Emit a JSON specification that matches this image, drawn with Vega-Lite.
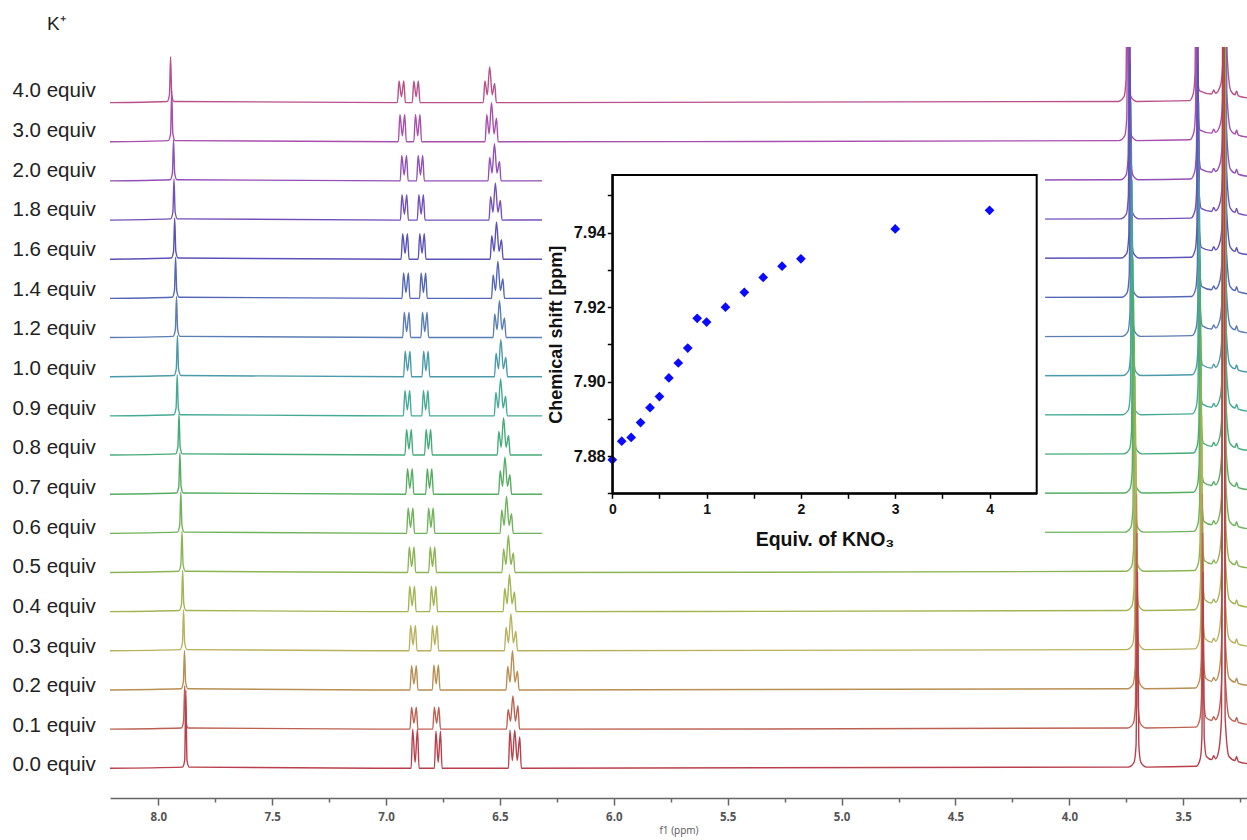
{
"$schema": "https://vega.github.io/schema/vega-lite/v6.json",
"width": 1137, "height": 751,
"autosize": {"type": "none"},
"padding": {"left": 110, "top": 47, "right": 0, "bottom": 42},
"background": "white",
"config": {"view": {"stroke": null}, "font": "Liberation Sans"},
"title": {"text": "K⁺", "anchor": "start", "frame": "group", "dx": -63, "dy": 19, "offset": 17, "baseline": "alphabetic", "fontSize": 19, "fontWeight": "normal", "color": "#222", "font": "Liberation Sans"},
"layer": [
{
"data": {"values": [
{"e":"4.0","x":8.212,"y":17},{"e":"4.0","x":7.961,"y":17.03},{"e":"4.0","x":7.951,"y":17.2},{"e":"4.0","x":7.946,"y":18.17},{"e":"4.0","x":7.941,"y":17.2},{"e":"4.0","x":7.931,"y":17.03},
{"e":"4.0","x":6.95,"y":17},{"e":"4.0","x":6.943,"y":17.55},{"e":"4.0","x":6.9325,"y":17.15},{"e":"4.0","x":6.922,"y":17.55},{"e":"4.0","x":6.915,"y":17},
{"e":"4.0","x":6.885,"y":17},{"e":"4.0","x":6.878,"y":17.55},{"e":"4.0","x":6.868,"y":17.15},{"e":"4.0","x":6.858,"y":17.55},{"e":"4.0","x":6.851,"y":17},
{"e":"4.0","x":6.573,"y":17},{"e":"4.0","x":6.566,"y":17.55},{"e":"4.0","x":6.5555,"y":17.2},{"e":"4.0","x":6.545,"y":17.92},{"e":"4.0","x":6.534,"y":17.2},{"e":"4.0","x":6.523,"y":17.49},{"e":"4.0","x":6.516,"y":17},
{"e":"4.0","x":3.785,"y":17.03},{"e":"4.0","x":3.76,"y":17.15},{"e":"4.0","x":3.751,"y":17.6},{"e":"4.0","x":3.745,"y":22},{"e":"4.0","x":3.739,"y":17.6},{"e":"4.0","x":3.73,"y":17.15},{"e":"4.0","x":3.705,"y":17.03},
{"e":"4.0","x":3.473,"y":17.05},{"e":"4.0","x":3.455,"y":17.25},{"e":"4.0","x":3.448,"y":17.8},{"e":"4.0","x":3.443,"y":22},{"e":"4.0","x":3.438,"y":17.8},{"e":"4.0","x":3.428,"y":17.3},
{"e":"4.0","x":3.375,"y":17.22},{"e":"4.0","x":3.366,"y":17.32},{"e":"4.0","x":3.358,"y":17.24},
{"e":"4.0","x":3.336,"y":17.45},{"e":"4.0","x":3.324,"y":18.3},{"e":"4.0","x":3.316,"y":30},{"e":"4.0","x":3.308,"y":18.3},{"e":"4.0","x":3.291,"y":17.3},
{"e":"4.0","x":3.272,"y":17.2},{"e":"4.0","x":3.266,"y":17.3},{"e":"4.0","x":3.258,"y":17.17},{"e":"4.0","x":3.22,"y":17.12},

{"e":"3.0","x":8.212,"y":16},{"e":"3.0","x":7.956,"y":16.03},{"e":"3.0","x":7.946,"y":16.2},{"e":"3.0","x":7.941,"y":17.3},{"e":"3.0","x":7.936,"y":16.2},{"e":"3.0","x":7.926,"y":16.03},
{"e":"3.0","x":6.946,"y":16},{"e":"3.0","x":6.939,"y":16.7},{"e":"3.0","x":6.9285,"y":16.15},{"e":"3.0","x":6.918,"y":16.7},{"e":"3.0","x":6.911,"y":16},
{"e":"3.0","x":6.878,"y":16},{"e":"3.0","x":6.871,"y":16.7},{"e":"3.0","x":6.861,"y":16.15},{"e":"3.0","x":6.851,"y":16.7},{"e":"3.0","x":6.844,"y":16},
{"e":"3.0","x":6.565,"y":16},{"e":"3.0","x":6.558,"y":16.7},{"e":"3.0","x":6.5475,"y":16.2},{"e":"3.0","x":6.537,"y":17},{"e":"3.0","x":6.526,"y":16.2},{"e":"3.0","x":6.515,"y":16.6},{"e":"3.0","x":6.508,"y":16},
{"e":"3.0","x":3.782,"y":16.03},{"e":"3.0","x":3.757,"y":16.15},{"e":"3.0","x":3.748,"y":16.6},{"e":"3.0","x":3.742,"y":21},{"e":"3.0","x":3.736,"y":16.6},{"e":"3.0","x":3.727,"y":16.15},{"e":"3.0","x":3.702,"y":16.03},
{"e":"3.0","x":3.471,"y":16.05},{"e":"3.0","x":3.453,"y":16.25},{"e":"3.0","x":3.446,"y":16.8},{"e":"3.0","x":3.441,"y":21},{"e":"3.0","x":3.436,"y":16.8},{"e":"3.0","x":3.426,"y":16.3},
{"e":"3.0","x":3.375,"y":16.22},{"e":"3.0","x":3.366,"y":16.32},{"e":"3.0","x":3.358,"y":16.24},
{"e":"3.0","x":3.337,"y":16.45},{"e":"3.0","x":3.325,"y":17.3},{"e":"3.0","x":3.317,"y":30},{"e":"3.0","x":3.309,"y":17.3},{"e":"3.0","x":3.292,"y":16.3},
{"e":"3.0","x":3.272,"y":16.2},{"e":"3.0","x":3.266,"y":16.3},{"e":"3.0","x":3.258,"y":16.17},{"e":"3.0","x":3.22,"y":16.12},

{"e":"2.0","x":8.212,"y":15},{"e":"2.0","x":7.948,"y":15.03},{"e":"2.0","x":7.938,"y":15.2},{"e":"2.0","x":7.933,"y":16.05},{"e":"2.0","x":7.928,"y":15.2},{"e":"2.0","x":7.918,"y":15.03},
{"e":"2.0","x":6.938,"y":15},{"e":"2.0","x":6.931,"y":15.65},{"e":"2.0","x":6.9205,"y":15.15},{"e":"2.0","x":6.91,"y":15.65},{"e":"2.0","x":6.903,"y":15},
{"e":"2.0","x":6.866,"y":15},{"e":"2.0","x":6.859,"y":15.65},{"e":"2.0","x":6.849,"y":15.15},{"e":"2.0","x":6.839,"y":15.65},{"e":"2.0","x":6.832,"y":15},
{"e":"2.0","x":6.552,"y":15},{"e":"2.0","x":6.545,"y":15.6},{"e":"2.0","x":6.5345,"y":15.2},{"e":"2.0","x":6.524,"y":15.95},{"e":"2.0","x":6.513,"y":15.2},{"e":"2.0","x":6.502,"y":15.5},{"e":"2.0","x":6.495,"y":15},
{"e":"2.0","x":3.776,"y":15.03},{"e":"2.0","x":3.751,"y":15.15},{"e":"2.0","x":3.742,"y":15.6},{"e":"2.0","x":3.736,"y":20},{"e":"2.0","x":3.73,"y":15.6},{"e":"2.0","x":3.721,"y":15.15},{"e":"2.0","x":3.696,"y":15.03},
{"e":"2.0","x":3.467,"y":15.05},{"e":"2.0","x":3.449,"y":15.25},{"e":"2.0","x":3.442,"y":15.8},{"e":"2.0","x":3.437,"y":20},{"e":"2.0","x":3.432,"y":15.8},{"e":"2.0","x":3.422,"y":15.3},
{"e":"2.0","x":3.375,"y":15.22},{"e":"2.0","x":3.366,"y":15.32},{"e":"2.0","x":3.358,"y":15.24},
{"e":"2.0","x":3.338,"y":15.45},{"e":"2.0","x":3.326,"y":16.3},{"e":"2.0","x":3.318,"y":30},{"e":"2.0","x":3.31,"y":16.3},{"e":"2.0","x":3.293,"y":15.3},
{"e":"2.0","x":3.272,"y":15.2},{"e":"2.0","x":3.266,"y":15.3},{"e":"2.0","x":3.258,"y":15.17},{"e":"2.0","x":3.22,"y":15.12},

{"e":"1.8","x":8.212,"y":14},{"e":"1.8","x":7.946,"y":14.03},{"e":"1.8","x":7.936,"y":14.2},{"e":"1.8","x":7.931,"y":15.05},{"e":"1.8","x":7.926,"y":14.2},{"e":"1.8","x":7.916,"y":14.03},
{"e":"1.8","x":6.937,"y":14},{"e":"1.8","x":6.93,"y":14.65},{"e":"1.8","x":6.9195,"y":14.15},{"e":"1.8","x":6.909,"y":14.65},{"e":"1.8","x":6.902,"y":14},
{"e":"1.8","x":6.863,"y":14},{"e":"1.8","x":6.856,"y":14.65},{"e":"1.8","x":6.846,"y":14.15},{"e":"1.8","x":6.836,"y":14.65},{"e":"1.8","x":6.829,"y":14},
{"e":"1.8","x":6.548,"y":14},{"e":"1.8","x":6.541,"y":14.6},{"e":"1.8","x":6.5305,"y":14.2},{"e":"1.8","x":6.52,"y":14.95},{"e":"1.8","x":6.509,"y":14.2},{"e":"1.8","x":6.498,"y":14.5},{"e":"1.8","x":6.491,"y":14},
{"e":"1.8","x":3.775,"y":14.03},{"e":"1.8","x":3.75,"y":14.15},{"e":"1.8","x":3.741,"y":14.6},{"e":"1.8","x":3.735,"y":19},{"e":"1.8","x":3.729,"y":14.6},{"e":"1.8","x":3.72,"y":14.15},{"e":"1.8","x":3.695,"y":14.03},
{"e":"1.8","x":3.466,"y":14.05},{"e":"1.8","x":3.448,"y":14.25},{"e":"1.8","x":3.441,"y":14.8},{"e":"1.8","x":3.436,"y":19},{"e":"1.8","x":3.431,"y":14.8},{"e":"1.8","x":3.421,"y":14.3},
{"e":"1.8","x":3.375,"y":14.22},{"e":"1.8","x":3.366,"y":14.32},{"e":"1.8","x":3.358,"y":14.24},
{"e":"1.8","x":3.338,"y":14.45},{"e":"1.8","x":3.326,"y":15.3},{"e":"1.8","x":3.318,"y":30},{"e":"1.8","x":3.31,"y":15.3},{"e":"1.8","x":3.293,"y":14.3},
{"e":"1.8","x":3.272,"y":14.2},{"e":"1.8","x":3.266,"y":14.3},{"e":"1.8","x":3.258,"y":14.17},{"e":"1.8","x":3.22,"y":14.12},

{"e":"1.6","x":8.212,"y":13},{"e":"1.6","x":7.943,"y":13.03},{"e":"1.6","x":7.933,"y":13.2},{"e":"1.6","x":7.928,"y":14.05},{"e":"1.6","x":7.923,"y":13.2},{"e":"1.6","x":7.913,"y":13.03},
{"e":"1.6","x":6.934,"y":13},{"e":"1.6","x":6.927,"y":13.65},{"e":"1.6","x":6.9165,"y":13.15},{"e":"1.6","x":6.906,"y":13.65},{"e":"1.6","x":6.899,"y":13},
{"e":"1.6","x":6.859,"y":13},{"e":"1.6","x":6.852,"y":13.65},{"e":"1.6","x":6.842,"y":13.15},{"e":"1.6","x":6.832,"y":13.65},{"e":"1.6","x":6.825,"y":13},
{"e":"1.6","x":6.543,"y":13},{"e":"1.6","x":6.536,"y":13.6},{"e":"1.6","x":6.5255,"y":13.2},{"e":"1.6","x":6.515,"y":13.95},{"e":"1.6","x":6.504,"y":13.2},{"e":"1.6","x":6.493,"y":13.5},{"e":"1.6","x":6.486,"y":13},
{"e":"1.6","x":3.773,"y":13.03},{"e":"1.6","x":3.748,"y":13.15},{"e":"1.6","x":3.739,"y":13.6},{"e":"1.6","x":3.733,"y":18},{"e":"1.6","x":3.727,"y":13.6},{"e":"1.6","x":3.718,"y":13.15},{"e":"1.6","x":3.693,"y":13.03},
{"e":"1.6","x":3.465,"y":13.05},{"e":"1.6","x":3.447,"y":13.25},{"e":"1.6","x":3.44,"y":13.8},{"e":"1.6","x":3.435,"y":18},{"e":"1.6","x":3.43,"y":13.8},{"e":"1.6","x":3.42,"y":13.3},
{"e":"1.6","x":3.375,"y":13.22},{"e":"1.6","x":3.366,"y":13.32},{"e":"1.6","x":3.358,"y":13.24},
{"e":"1.6","x":3.338,"y":13.45},{"e":"1.6","x":3.326,"y":14.3},{"e":"1.6","x":3.318,"y":30},{"e":"1.6","x":3.31,"y":14.3},{"e":"1.6","x":3.293,"y":13.3},
{"e":"1.6","x":3.272,"y":13.2},{"e":"1.6","x":3.266,"y":13.3},{"e":"1.6","x":3.258,"y":13.17},{"e":"1.6","x":3.22,"y":13.12},

{"e":"1.4","x":8.212,"y":12},{"e":"1.4","x":7.939,"y":12.03},{"e":"1.4","x":7.929,"y":12.2},{"e":"1.4","x":7.924,"y":13.05},{"e":"1.4","x":7.919,"y":12.2},{"e":"1.4","x":7.909,"y":12.03},
{"e":"1.4","x":6.93,"y":12},{"e":"1.4","x":6.923,"y":12.65},{"e":"1.4","x":6.9125,"y":12.15},{"e":"1.4","x":6.902,"y":12.65},{"e":"1.4","x":6.895,"y":12},
{"e":"1.4","x":6.853,"y":12},{"e":"1.4","x":6.846,"y":12.65},{"e":"1.4","x":6.836,"y":12.15},{"e":"1.4","x":6.826,"y":12.65},{"e":"1.4","x":6.819,"y":12},
{"e":"1.4","x":6.537,"y":12},{"e":"1.4","x":6.53,"y":12.6},{"e":"1.4","x":6.5195,"y":12.2},{"e":"1.4","x":6.509,"y":12.95},{"e":"1.4","x":6.498,"y":12.2},{"e":"1.4","x":6.487,"y":12.5},{"e":"1.4","x":6.48,"y":12},
{"e":"1.4","x":3.771,"y":12.03},{"e":"1.4","x":3.746,"y":12.15},{"e":"1.4","x":3.737,"y":12.6},{"e":"1.4","x":3.731,"y":17},{"e":"1.4","x":3.725,"y":12.6},{"e":"1.4","x":3.716,"y":12.15},{"e":"1.4","x":3.691,"y":12.03},
{"e":"1.4","x":3.463,"y":12.05},{"e":"1.4","x":3.445,"y":12.25},{"e":"1.4","x":3.438,"y":12.8},{"e":"1.4","x":3.433,"y":17},{"e":"1.4","x":3.428,"y":12.8},{"e":"1.4","x":3.418,"y":12.3},
{"e":"1.4","x":3.375,"y":12.22},{"e":"1.4","x":3.366,"y":12.32},{"e":"1.4","x":3.358,"y":12.24},
{"e":"1.4","x":3.339,"y":12.45},{"e":"1.4","x":3.327,"y":13.3},{"e":"1.4","x":3.319,"y":30},{"e":"1.4","x":3.311,"y":13.3},{"e":"1.4","x":3.294,"y":12.3},
{"e":"1.4","x":3.272,"y":12.2},{"e":"1.4","x":3.266,"y":12.3},{"e":"1.4","x":3.258,"y":12.17},{"e":"1.4","x":3.22,"y":12.12},

{"e":"1.2","x":8.212,"y":11},{"e":"1.2","x":7.935,"y":11.03},{"e":"1.2","x":7.925,"y":11.2},{"e":"1.2","x":7.92,"y":12.05},{"e":"1.2","x":7.915,"y":11.2},{"e":"1.2","x":7.905,"y":11.03},
{"e":"1.2","x":6.927,"y":11},{"e":"1.2","x":6.92,"y":11.65},{"e":"1.2","x":6.9095,"y":11.15},{"e":"1.2","x":6.899,"y":11.65},{"e":"1.2","x":6.892,"y":11},
{"e":"1.2","x":6.847,"y":11},{"e":"1.2","x":6.84,"y":11.65},{"e":"1.2","x":6.83,"y":11.15},{"e":"1.2","x":6.82,"y":11.65},{"e":"1.2","x":6.813,"y":11},
{"e":"1.2","x":6.53,"y":11},{"e":"1.2","x":6.523,"y":11.6},{"e":"1.2","x":6.5125,"y":11.2},{"e":"1.2","x":6.502,"y":11.95},{"e":"1.2","x":6.491,"y":11.2},{"e":"1.2","x":6.48,"y":11.5},{"e":"1.2","x":6.473,"y":11},
{"e":"1.2","x":3.768,"y":11.03},{"e":"1.2","x":3.743,"y":11.15},{"e":"1.2","x":3.734,"y":11.6},{"e":"1.2","x":3.728,"y":16},{"e":"1.2","x":3.722,"y":11.6},{"e":"1.2","x":3.713,"y":11.15},{"e":"1.2","x":3.688,"y":11.03},
{"e":"1.2","x":3.461,"y":11.05},{"e":"1.2","x":3.443,"y":11.25},{"e":"1.2","x":3.436,"y":11.8},{"e":"1.2","x":3.431,"y":16},{"e":"1.2","x":3.426,"y":11.8},{"e":"1.2","x":3.416,"y":11.3},
{"e":"1.2","x":3.375,"y":11.22},{"e":"1.2","x":3.366,"y":11.32},{"e":"1.2","x":3.358,"y":11.24},
{"e":"1.2","x":3.339,"y":11.45},{"e":"1.2","x":3.327,"y":12.3},{"e":"1.2","x":3.319,"y":30},{"e":"1.2","x":3.311,"y":12.3},{"e":"1.2","x":3.294,"y":11.3},
{"e":"1.2","x":3.272,"y":11.2},{"e":"1.2","x":3.266,"y":11.3},{"e":"1.2","x":3.258,"y":11.17},{"e":"1.2","x":3.22,"y":11.12},

{"e":"1.0","x":8.212,"y":10},{"e":"1.0","x":7.931,"y":10.03},{"e":"1.0","x":7.921,"y":10.2},{"e":"1.0","x":7.916,"y":11.05},{"e":"1.0","x":7.911,"y":10.2},{"e":"1.0","x":7.901,"y":10.03},
{"e":"1.0","x":6.923,"y":10},{"e":"1.0","x":6.916,"y":10.65},{"e":"1.0","x":6.9055,"y":10.15},{"e":"1.0","x":6.895,"y":10.65},{"e":"1.0","x":6.888,"y":10},
{"e":"1.0","x":6.842,"y":10},{"e":"1.0","x":6.835,"y":10.65},{"e":"1.0","x":6.825,"y":10.15},{"e":"1.0","x":6.815,"y":10.65},{"e":"1.0","x":6.808,"y":10},
{"e":"1.0","x":6.524,"y":10},{"e":"1.0","x":6.517,"y":10.6},{"e":"1.0","x":6.5065,"y":10.2},{"e":"1.0","x":6.496,"y":10.95},{"e":"1.0","x":6.485,"y":10.2},{"e":"1.0","x":6.474,"y":10.5},{"e":"1.0","x":6.467,"y":10},
{"e":"1.0","x":3.765,"y":10.03},{"e":"1.0","x":3.74,"y":10.15},{"e":"1.0","x":3.731,"y":10.6},{"e":"1.0","x":3.725,"y":15},{"e":"1.0","x":3.719,"y":10.6},{"e":"1.0","x":3.71,"y":10.15},{"e":"1.0","x":3.685,"y":10.03},
{"e":"1.0","x":3.46,"y":10.05},{"e":"1.0","x":3.442,"y":10.25},{"e":"1.0","x":3.435,"y":10.8},{"e":"1.0","x":3.43,"y":15},{"e":"1.0","x":3.425,"y":10.8},{"e":"1.0","x":3.415,"y":10.3},
{"e":"1.0","x":3.375,"y":10.22},{"e":"1.0","x":3.366,"y":10.32},{"e":"1.0","x":3.358,"y":10.24},
{"e":"1.0","x":3.34,"y":10.45},{"e":"1.0","x":3.328,"y":11.3},{"e":"1.0","x":3.32,"y":30},{"e":"1.0","x":3.312,"y":11.3},{"e":"1.0","x":3.295,"y":10.3},
{"e":"1.0","x":3.272,"y":10.2},{"e":"1.0","x":3.266,"y":10.3},{"e":"1.0","x":3.258,"y":10.17},{"e":"1.0","x":3.22,"y":10.12},

{"e":"0.9","x":8.212,"y":9},{"e":"0.9","x":7.932,"y":9.03},{"e":"0.9","x":7.922,"y":9.2},{"e":"0.9","x":7.917,"y":10.05},{"e":"0.9","x":7.912,"y":9.2},{"e":"0.9","x":7.902,"y":9.03},
{"e":"0.9","x":6.924,"y":9},{"e":"0.9","x":6.917,"y":9.65},{"e":"0.9","x":6.9065,"y":9.15},{"e":"0.9","x":6.896,"y":9.65},{"e":"0.9","x":6.889,"y":9},
{"e":"0.9","x":6.843,"y":9},{"e":"0.9","x":6.836,"y":9.65},{"e":"0.9","x":6.826,"y":9.15},{"e":"0.9","x":6.816,"y":9.65},{"e":"0.9","x":6.809,"y":9},
{"e":"0.9","x":6.525,"y":9},{"e":"0.9","x":6.518,"y":9.6},{"e":"0.9","x":6.5075,"y":9.2},{"e":"0.9","x":6.497,"y":9.95},{"e":"0.9","x":6.486,"y":9.2},{"e":"0.9","x":6.475,"y":9.5},{"e":"0.9","x":6.468,"y":9},
{"e":"0.9","x":3.766,"y":9.03},{"e":"0.9","x":3.741,"y":9.15},{"e":"0.9","x":3.732,"y":9.6},{"e":"0.9","x":3.726,"y":14},{"e":"0.9","x":3.72,"y":9.6},{"e":"0.9","x":3.711,"y":9.15},{"e":"0.9","x":3.686,"y":9.03},
{"e":"0.9","x":3.46,"y":9.05},{"e":"0.9","x":3.442,"y":9.25},{"e":"0.9","x":3.435,"y":9.8},{"e":"0.9","x":3.43,"y":14},{"e":"0.9","x":3.425,"y":9.8},{"e":"0.9","x":3.415,"y":9.3},
{"e":"0.9","x":3.375,"y":9.22},{"e":"0.9","x":3.366,"y":9.32},{"e":"0.9","x":3.358,"y":9.24},
{"e":"0.9","x":3.339,"y":9.45},{"e":"0.9","x":3.327,"y":10.3},{"e":"0.9","x":3.319,"y":30},{"e":"0.9","x":3.311,"y":10.3},{"e":"0.9","x":3.294,"y":9.3},
{"e":"0.9","x":3.272,"y":9.2},{"e":"0.9","x":3.266,"y":9.3},{"e":"0.9","x":3.258,"y":9.17},{"e":"0.9","x":3.22,"y":9.12},

{"e":"0.8","x":8.212,"y":8},{"e":"0.8","x":7.924,"y":8.03},{"e":"0.8","x":7.914,"y":8.2},{"e":"0.8","x":7.909,"y":9.05},{"e":"0.8","x":7.904,"y":8.2},{"e":"0.8","x":7.894,"y":8.03},
{"e":"0.8","x":6.917,"y":8},{"e":"0.8","x":6.91,"y":8.65},{"e":"0.8","x":6.8995,"y":8.15},{"e":"0.8","x":6.889,"y":8.65},{"e":"0.8","x":6.882,"y":8},
{"e":"0.8","x":6.831,"y":8},{"e":"0.8","x":6.824,"y":8.65},{"e":"0.8","x":6.814,"y":8.15},{"e":"0.8","x":6.804,"y":8.65},{"e":"0.8","x":6.797,"y":8},
{"e":"0.8","x":6.512,"y":8},{"e":"0.8","x":6.505,"y":8.6},{"e":"0.8","x":6.4945,"y":8.2},{"e":"0.8","x":6.484,"y":8.95},{"e":"0.8","x":6.473,"y":8.2},{"e":"0.8","x":6.462,"y":8.5},{"e":"0.8","x":6.455,"y":8},
{"e":"0.8","x":3.761,"y":8.03},{"e":"0.8","x":3.736,"y":8.15},{"e":"0.8","x":3.727,"y":8.6},{"e":"0.8","x":3.721,"y":13},{"e":"0.8","x":3.715,"y":8.6},{"e":"0.8","x":3.706,"y":8.15},{"e":"0.8","x":3.681,"y":8.03},
{"e":"0.8","x":3.456,"y":8.05},{"e":"0.8","x":3.438,"y":8.25},{"e":"0.8","x":3.431,"y":8.8},{"e":"0.8","x":3.426,"y":13},{"e":"0.8","x":3.421,"y":8.8},{"e":"0.8","x":3.411,"y":8.3},
{"e":"0.8","x":3.375,"y":8.22},{"e":"0.8","x":3.366,"y":8.32},{"e":"0.8","x":3.358,"y":8.24},
{"e":"0.8","x":3.34,"y":8.45},{"e":"0.8","x":3.328,"y":9.3},{"e":"0.8","x":3.32,"y":30},{"e":"0.8","x":3.312,"y":9.3},{"e":"0.8","x":3.295,"y":8.3},
{"e":"0.8","x":3.272,"y":8.2},{"e":"0.8","x":3.266,"y":8.3},{"e":"0.8","x":3.258,"y":8.17},{"e":"0.8","x":3.22,"y":8.12},

{"e":"0.7","x":8.212,"y":7},{"e":"0.7","x":7.92,"y":7.03},{"e":"0.7","x":7.91,"y":7.2},{"e":"0.7","x":7.905,"y":8.05},{"e":"0.7","x":7.9,"y":7.2},{"e":"0.7","x":7.89,"y":7.03},
{"e":"0.7","x":6.913,"y":7},{"e":"0.7","x":6.906,"y":7.65},{"e":"0.7","x":6.8955,"y":7.15},{"e":"0.7","x":6.885,"y":7.65},{"e":"0.7","x":6.878,"y":7},
{"e":"0.7","x":6.826,"y":7},{"e":"0.7","x":6.819,"y":7.65},{"e":"0.7","x":6.809,"y":7.15},{"e":"0.7","x":6.799,"y":7.65},{"e":"0.7","x":6.792,"y":7},
{"e":"0.7","x":6.506,"y":7},{"e":"0.7","x":6.499,"y":7.6},{"e":"0.7","x":6.4885,"y":7.2},{"e":"0.7","x":6.478,"y":7.95},{"e":"0.7","x":6.467,"y":7.2},{"e":"0.7","x":6.456,"y":7.5},{"e":"0.7","x":6.449,"y":7},
{"e":"0.7","x":3.758,"y":7.03},{"e":"0.7","x":3.733,"y":7.15},{"e":"0.7","x":3.724,"y":7.6},{"e":"0.7","x":3.718,"y":12},{"e":"0.7","x":3.712,"y":7.6},{"e":"0.7","x":3.703,"y":7.15},{"e":"0.7","x":3.678,"y":7.03},
{"e":"0.7","x":3.455,"y":7.05},{"e":"0.7","x":3.437,"y":7.25},{"e":"0.7","x":3.43,"y":7.8},{"e":"0.7","x":3.425,"y":12},{"e":"0.7","x":3.42,"y":7.8},{"e":"0.7","x":3.41,"y":7.3},
{"e":"0.7","x":3.375,"y":7.22},{"e":"0.7","x":3.366,"y":7.32},{"e":"0.7","x":3.358,"y":7.24},
{"e":"0.7","x":3.341,"y":7.45},{"e":"0.7","x":3.329,"y":8.3},{"e":"0.7","x":3.321,"y":30},{"e":"0.7","x":3.313,"y":8.3},{"e":"0.7","x":3.296,"y":7.3},
{"e":"0.7","x":3.272,"y":7.2},{"e":"0.7","x":3.266,"y":7.3},{"e":"0.7","x":3.258,"y":7.17},{"e":"0.7","x":3.22,"y":7.12},

{"e":"0.6","x":8.212,"y":6},{"e":"0.6","x":7.916,"y":6.03},{"e":"0.6","x":7.906,"y":6.2},{"e":"0.6","x":7.901,"y":7.05},{"e":"0.6","x":7.896,"y":6.2},{"e":"0.6","x":7.886,"y":6.03},
{"e":"0.6","x":6.91,"y":6},{"e":"0.6","x":6.903,"y":6.65},{"e":"0.6","x":6.8925,"y":6.15},{"e":"0.6","x":6.882,"y":6.65},{"e":"0.6","x":6.875,"y":6},
{"e":"0.6","x":6.82,"y":6},{"e":"0.6","x":6.813,"y":6.65},{"e":"0.6","x":6.803,"y":6.15},{"e":"0.6","x":6.793,"y":6.65},{"e":"0.6","x":6.786,"y":6},
{"e":"0.6","x":6.499,"y":6},{"e":"0.6","x":6.492,"y":6.6},{"e":"0.6","x":6.4815,"y":6.2},{"e":"0.6","x":6.471,"y":6.95},{"e":"0.6","x":6.46,"y":6.2},{"e":"0.6","x":6.449,"y":6.5},{"e":"0.6","x":6.442,"y":6},
{"e":"0.6","x":3.755,"y":6.03},{"e":"0.6","x":3.73,"y":6.15},{"e":"0.6","x":3.721,"y":6.6},{"e":"0.6","x":3.715,"y":11},{"e":"0.6","x":3.709,"y":6.6},{"e":"0.6","x":3.7,"y":6.15},{"e":"0.6","x":3.675,"y":6.03},
{"e":"0.6","x":3.453,"y":6.05},{"e":"0.6","x":3.435,"y":6.25},{"e":"0.6","x":3.428,"y":6.8},{"e":"0.6","x":3.423,"y":11},{"e":"0.6","x":3.418,"y":6.8},{"e":"0.6","x":3.408,"y":6.3},
{"e":"0.6","x":3.375,"y":6.22},{"e":"0.6","x":3.366,"y":6.32},{"e":"0.6","x":3.358,"y":6.24},
{"e":"0.6","x":3.341,"y":6.45},{"e":"0.6","x":3.329,"y":7.3},{"e":"0.6","x":3.321,"y":30},{"e":"0.6","x":3.313,"y":7.3},{"e":"0.6","x":3.296,"y":6.3},
{"e":"0.6","x":3.272,"y":6.2},{"e":"0.6","x":3.266,"y":6.3},{"e":"0.6","x":3.258,"y":6.17},{"e":"0.6","x":3.22,"y":6.12},

{"e":"0.5","x":8.212,"y":5},{"e":"0.5","x":7.911,"y":5.03},{"e":"0.5","x":7.901,"y":5.2},{"e":"0.5","x":7.896,"y":6.05},{"e":"0.5","x":7.891,"y":5.2},{"e":"0.5","x":7.881,"y":5.03},
{"e":"0.5","x":6.905,"y":5},{"e":"0.5","x":6.898,"y":5.65},{"e":"0.5","x":6.8875,"y":5.15},{"e":"0.5","x":6.877,"y":5.65},{"e":"0.5","x":6.87,"y":5},
{"e":"0.5","x":6.813,"y":5},{"e":"0.5","x":6.806,"y":5.65},{"e":"0.5","x":6.796,"y":5.15},{"e":"0.5","x":6.786,"y":5.65},{"e":"0.5","x":6.779,"y":5},
{"e":"0.5","x":6.491,"y":5},{"e":"0.5","x":6.484,"y":5.6},{"e":"0.5","x":6.4735,"y":5.2},{"e":"0.5","x":6.463,"y":5.95},{"e":"0.5","x":6.452,"y":5.2},{"e":"0.5","x":6.441,"y":5.5},{"e":"0.5","x":6.434,"y":5},
{"e":"0.5","x":3.752,"y":5.03},{"e":"0.5","x":3.727,"y":5.15},{"e":"0.5","x":3.718,"y":5.6},{"e":"0.5","x":3.712,"y":10},{"e":"0.5","x":3.706,"y":5.6},{"e":"0.5","x":3.697,"y":5.15},{"e":"0.5","x":3.672,"y":5.03},
{"e":"0.5","x":3.451,"y":5.05},{"e":"0.5","x":3.433,"y":5.25},{"e":"0.5","x":3.426,"y":5.8},{"e":"0.5","x":3.421,"y":10},{"e":"0.5","x":3.416,"y":5.8},{"e":"0.5","x":3.406,"y":5.3},
{"e":"0.5","x":3.375,"y":5.22},{"e":"0.5","x":3.366,"y":5.32},{"e":"0.5","x":3.358,"y":5.24},
{"e":"0.5","x":3.342,"y":5.45},{"e":"0.5","x":3.33,"y":6.3},{"e":"0.5","x":3.322,"y":30},{"e":"0.5","x":3.314,"y":6.3},{"e":"0.5","x":3.297,"y":5.3},
{"e":"0.5","x":3.272,"y":5.2},{"e":"0.5","x":3.266,"y":5.3},{"e":"0.5","x":3.258,"y":5.17},{"e":"0.5","x":3.22,"y":5.12},

{"e":"0.4","x":8.212,"y":4},{"e":"0.4","x":7.908,"y":4.03},{"e":"0.4","x":7.898,"y":4.2},{"e":"0.4","x":7.893,"y":5.05},{"e":"0.4","x":7.888,"y":4.2},{"e":"0.4","x":7.878,"y":4.03},
{"e":"0.4","x":6.903,"y":4},{"e":"0.4","x":6.896,"y":4.65},{"e":"0.4","x":6.8855,"y":4.15},{"e":"0.4","x":6.875,"y":4.65},{"e":"0.4","x":6.868,"y":4},
{"e":"0.4","x":6.808,"y":4},{"e":"0.4","x":6.801,"y":4.65},{"e":"0.4","x":6.791,"y":4.15},{"e":"0.4","x":6.781,"y":4.65},{"e":"0.4","x":6.774,"y":4},
{"e":"0.4","x":6.486,"y":4},{"e":"0.4","x":6.479,"y":4.6},{"e":"0.4","x":6.4685,"y":4.2},{"e":"0.4","x":6.458,"y":4.95},{"e":"0.4","x":6.447,"y":4.2},{"e":"0.4","x":6.436,"y":4.5},{"e":"0.4","x":6.429,"y":4},
{"e":"0.4","x":3.75,"y":4.03},{"e":"0.4","x":3.725,"y":4.15},{"e":"0.4","x":3.716,"y":4.6},{"e":"0.4","x":3.71,"y":9},{"e":"0.4","x":3.704,"y":4.6},{"e":"0.4","x":3.695,"y":4.15},{"e":"0.4","x":3.67,"y":4.03},
{"e":"0.4","x":3.449,"y":4.05},{"e":"0.4","x":3.431,"y":4.25},{"e":"0.4","x":3.424,"y":4.8},{"e":"0.4","x":3.419,"y":9},{"e":"0.4","x":3.414,"y":4.8},{"e":"0.4","x":3.404,"y":4.3},
{"e":"0.4","x":3.375,"y":4.22},{"e":"0.4","x":3.366,"y":4.32},{"e":"0.4","x":3.358,"y":4.24},
{"e":"0.4","x":3.342,"y":4.45},{"e":"0.4","x":3.33,"y":5.3},{"e":"0.4","x":3.322,"y":30},{"e":"0.4","x":3.314,"y":5.3},{"e":"0.4","x":3.297,"y":4.3},
{"e":"0.4","x":3.272,"y":4.2},{"e":"0.4","x":3.266,"y":4.3},{"e":"0.4","x":3.258,"y":4.17},{"e":"0.4","x":3.22,"y":4.12},

{"e":"0.3","x":8.212,"y":3},{"e":"0.3","x":7.904,"y":3.03},{"e":"0.3","x":7.894,"y":3.2},{"e":"0.3","x":7.889,"y":4.05},{"e":"0.3","x":7.884,"y":3.2},{"e":"0.3","x":7.874,"y":3.03},
{"e":"0.3","x":6.899,"y":3},{"e":"0.3","x":6.892,"y":3.65},{"e":"0.3","x":6.8815,"y":3.15},{"e":"0.3","x":6.871,"y":3.65},{"e":"0.3","x":6.864,"y":3},
{"e":"0.3","x":6.803,"y":3},{"e":"0.3","x":6.796,"y":3.65},{"e":"0.3","x":6.786,"y":3.15},{"e":"0.3","x":6.776,"y":3.65},{"e":"0.3","x":6.769,"y":3},
{"e":"0.3","x":6.48,"y":3},{"e":"0.3","x":6.473,"y":3.6},{"e":"0.3","x":6.4625,"y":3.2},{"e":"0.3","x":6.452,"y":3.95},{"e":"0.3","x":6.441,"y":3.2},{"e":"0.3","x":6.43,"y":3.5},{"e":"0.3","x":6.423,"y":3},
{"e":"0.3","x":3.748,"y":3.03},{"e":"0.3","x":3.723,"y":3.15},{"e":"0.3","x":3.714,"y":3.6},{"e":"0.3","x":3.708,"y":8},{"e":"0.3","x":3.702,"y":3.6},{"e":"0.3","x":3.693,"y":3.15},{"e":"0.3","x":3.668,"y":3.03},
{"e":"0.3","x":3.448,"y":3.05},{"e":"0.3","x":3.43,"y":3.25},{"e":"0.3","x":3.423,"y":3.8},{"e":"0.3","x":3.418,"y":8},{"e":"0.3","x":3.413,"y":3.8},{"e":"0.3","x":3.403,"y":3.3},
{"e":"0.3","x":3.375,"y":3.22},{"e":"0.3","x":3.366,"y":3.32},{"e":"0.3","x":3.358,"y":3.24},
{"e":"0.3","x":3.343,"y":3.45},{"e":"0.3","x":3.331,"y":4.3},{"e":"0.3","x":3.323,"y":30},{"e":"0.3","x":3.315,"y":4.3},{"e":"0.3","x":3.298,"y":3.3},
{"e":"0.3","x":3.272,"y":3.2},{"e":"0.3","x":3.266,"y":3.3},{"e":"0.3","x":3.258,"y":3.17},{"e":"0.3","x":3.22,"y":3.12},

{"e":"0.2","x":8.212,"y":2},{"e":"0.2","x":7.9,"y":2.03},{"e":"0.2","x":7.89,"y":2.2},{"e":"0.2","x":7.885,"y":3},{"e":"0.2","x":7.88,"y":2.2},{"e":"0.2","x":7.87,"y":2.03},
{"e":"0.2","x":6.895,"y":2},{"e":"0.2","x":6.888,"y":2.62},{"e":"0.2","x":6.8775,"y":2.15},{"e":"0.2","x":6.867,"y":2.62},{"e":"0.2","x":6.86,"y":2},
{"e":"0.2","x":6.797,"y":2},{"e":"0.2","x":6.79,"y":2.64},{"e":"0.2","x":6.78,"y":2.15},{"e":"0.2","x":6.77,"y":2.64},{"e":"0.2","x":6.763,"y":2},
{"e":"0.2","x":6.473,"y":2},{"e":"0.2","x":6.466,"y":2.6},{"e":"0.2","x":6.4555,"y":2.2},{"e":"0.2","x":6.445,"y":3},{"e":"0.2","x":6.434,"y":2.2},{"e":"0.2","x":6.423,"y":2.48},{"e":"0.2","x":6.416,"y":2},
{"e":"0.2","x":3.745,"y":2.03},{"e":"0.2","x":3.72,"y":2.15},{"e":"0.2","x":3.711,"y":2.6},{"e":"0.2","x":3.705,"y":7},{"e":"0.2","x":3.699,"y":2.6},{"e":"0.2","x":3.69,"y":2.15},{"e":"0.2","x":3.665,"y":2.03},
{"e":"0.2","x":3.446,"y":2.05},{"e":"0.2","x":3.428,"y":2.25},{"e":"0.2","x":3.421,"y":2.8},{"e":"0.2","x":3.416,"y":7},{"e":"0.2","x":3.411,"y":2.8},{"e":"0.2","x":3.401,"y":2.3},
{"e":"0.2","x":3.375,"y":2.22},{"e":"0.2","x":3.366,"y":2.32},{"e":"0.2","x":3.358,"y":2.24},
{"e":"0.2","x":3.343,"y":2.45},{"e":"0.2","x":3.331,"y":3.3},{"e":"0.2","x":3.323,"y":30},{"e":"0.2","x":3.315,"y":3.3},{"e":"0.2","x":3.298,"y":2.3},
{"e":"0.2","x":3.272,"y":2.2},{"e":"0.2","x":3.266,"y":2.3},{"e":"0.2","x":3.258,"y":2.17},{"e":"0.2","x":3.22,"y":2.12},

{"e":"0.1","x":8.212,"y":1},{"e":"0.1","x":7.899,"y":1.03},{"e":"0.1","x":7.889,"y":1.2},{"e":"0.1","x":7.884,"y":2.1},{"e":"0.1","x":7.879,"y":1.2},{"e":"0.1","x":7.869,"y":1.03},
{"e":"0.1","x":6.895,"y":1},{"e":"0.1","x":6.888,"y":1.56},{"e":"0.1","x":6.8775,"y":1.15},{"e":"0.1","x":6.867,"y":1.56},{"e":"0.1","x":6.86,"y":1},
{"e":"0.1","x":6.795,"y":1},{"e":"0.1","x":6.788,"y":1.56},{"e":"0.1","x":6.778,"y":1.15},{"e":"0.1","x":6.768,"y":1.56},{"e":"0.1","x":6.761,"y":1},
{"e":"0.1","x":6.471,"y":1},{"e":"0.1","x":6.464,"y":1.5},{"e":"0.1","x":6.4535,"y":1.2},{"e":"0.1","x":6.443,"y":1.85},{"e":"0.1","x":6.432,"y":1.2},{"e":"0.1","x":6.421,"y":1.6},{"e":"0.1","x":6.414,"y":1},
{"e":"0.1","x":3.744,"y":1.03},{"e":"0.1","x":3.719,"y":1.15},{"e":"0.1","x":3.71,"y":1.6},{"e":"0.1","x":3.704,"y":6},{"e":"0.1","x":3.698,"y":1.6},{"e":"0.1","x":3.689,"y":1.15},{"e":"0.1","x":3.664,"y":1.03},
{"e":"0.1","x":3.445,"y":1.05},{"e":"0.1","x":3.427,"y":1.25},{"e":"0.1","x":3.42,"y":1.8},{"e":"0.1","x":3.415,"y":6},{"e":"0.1","x":3.41,"y":1.8},{"e":"0.1","x":3.4,"y":1.3},
{"e":"0.1","x":3.375,"y":1.22},{"e":"0.1","x":3.366,"y":1.32},{"e":"0.1","x":3.358,"y":1.24},
{"e":"0.1","x":3.343,"y":1.45},{"e":"0.1","x":3.331,"y":2.3},{"e":"0.1","x":3.323,"y":30},{"e":"0.1","x":3.315,"y":2.3},{"e":"0.1","x":3.298,"y":1.3},
{"e":"0.1","x":3.272,"y":1.2},{"e":"0.1","x":3.266,"y":1.3},{"e":"0.1","x":3.258,"y":1.17},{"e":"0.1","x":3.22,"y":1.12},

{"e":"0.0","x":8.212,"y":0},{"e":"0.0","x":7.894,"y":0.03},{"e":"0.0","x":7.884,"y":0.2},{"e":"0.0","x":7.879,"y":2},{"e":"0.0","x":7.874,"y":0.2},{"e":"0.0","x":7.864,"y":0.03},
{"e":"0.0","x":6.89,"y":0},{"e":"0.0","x":6.883,"y":1},{"e":"0.0","x":6.8725,"y":0.15},{"e":"0.0","x":6.862,"y":1},{"e":"0.0","x":6.855,"y":0},
{"e":"0.0","x":6.788,"y":0},{"e":"0.0","x":6.781,"y":0.95},{"e":"0.0","x":6.771,"y":0.15},{"e":"0.0","x":6.761,"y":0.95},{"e":"0.0","x":6.754,"y":0},
{"e":"0.0","x":6.463,"y":0},{"e":"0.0","x":6.456,"y":0.97},{"e":"0.0","x":6.4455,"y":0.2},{"e":"0.0","x":6.435,"y":0.97},{"e":"0.0","x":6.424,"y":0.2},{"e":"0.0","x":6.413,"y":0.8},{"e":"0.0","x":6.406,"y":0},
{"e":"0.0","x":3.741,"y":0.03},{"e":"0.0","x":3.716,"y":0.15},{"e":"0.0","x":3.707,"y":0.6},{"e":"0.0","x":3.701,"y":5},{"e":"0.0","x":3.695,"y":0.6},{"e":"0.0","x":3.686,"y":0.15},{"e":"0.0","x":3.661,"y":0.03},
{"e":"0.0","x":3.443,"y":0.05},{"e":"0.0","x":3.425,"y":0.25},{"e":"0.0","x":3.418,"y":0.8},{"e":"0.0","x":3.413,"y":5},{"e":"0.0","x":3.408,"y":0.8},{"e":"0.0","x":3.398,"y":0.3},
{"e":"0.0","x":3.375,"y":0.22},{"e":"0.0","x":3.366,"y":0.32},{"e":"0.0","x":3.358,"y":0.24},
{"e":"0.0","x":3.344,"y":0.45},{"e":"0.0","x":3.332,"y":1.3},{"e":"0.0","x":3.324,"y":30},{"e":"0.0","x":3.316,"y":1.3},{"e":"0.0","x":3.299,"y":0.3},
{"e":"0.0","x":3.272,"y":0.2},{"e":"0.0","x":3.266,"y":0.3},{"e":"0.0","x":3.258,"y":0.17},{"e":"0.0","x":3.22,"y":0.12}
]},
"mark": {"type": "line", "clip": true, "strokeWidth": 1.4, "interpolate": "monotone"},
"encoding": {
"x": {"field": "x", "type": "quantitative",
"scale": {"domain": [3.22, 8.212], "reverse": true, "nice": false, "zero": false},
"axis": {"values": [8, 7.75, 7.5, 7.25, 7, 6.75, 6.5, 6.25, 6, 5.75, 5.5, 5.25, 5, 4.75, 4.5, 4.25, 4, 3.75, 3.5, 3.25],
"labelExpr": "abs(datum.value*2-round(datum.value*2))<0.01 ? format(datum.value,'.1f') : ''",
"tickSize": {"condition": {"test": "abs(datum.value*2-round(datum.value*2))<0.01", "value": 7}, "value": 4},
"title": "f1 (ppm)", "titleFontSize": 10, "titleFontWeight": "normal", "titleColor": "#555", "titlePadding": 3, "titleFont": "Open Sans",
"labelFontSize": 11.5, "labelColor": "#555", "labelFontWeight": "bold", "labelFont": "Open Sans", "labelPadding": 6,
"domainColor": "#666", "domainWidth": 1.5, "tickColor": "#666", "tickWidth": 1.5, "grid": false, "labelFlush": false, "labelOverlap": false}},
"y": {"field": "y", "type": "quantitative",
"scale": {"domain": [-0.759, 18.42], "nice": false, "zero": false},
"axis": {"values": [0.084, 1.097, 2.11, 3.122, 4.135, 5.148, 6.161, 7.174, 8.186, 9.199, 10.212, 11.225, 12.238, 13.25, 14.263, 15.276, 16.289, 17.302],
"labelExpr": "['0.0','0.1','0.2','0.3','0.4','0.5','0.6','0.7','0.8','0.9','1.0','1.2','1.4','1.6','1.8','2.0','3.0','4.0'][round(datum.value)] + ' equiv'",
"domain": false, "ticks": false, "tickSize": 0, "grid": false, "labelAlign": "left", "labelBaseline": "middle", "labelPadding": 98,
"labelFontSize": 20.5, "labelColor": "#222", "labelFont": "Liberation Sans", "title": null, "labelOverlap": false, "labelFlush": false}},
"color": {"field": "e", "type": "nominal", "legend": null,
"scale": {"domain": ["0.0","0.1","0.2","0.3","0.4","0.5","0.6","0.7","0.8","0.9","1.0","1.2","1.4","1.6","1.8","2.0","3.0","4.0"],
"range": ["#b8404c","#bc6152","#b88e52","#b8b25e","#a3b452","#8cb455","#6fb25a","#55ad62","#45ab78","#45aa95","#4a9aaa","#5a7db3","#5467b5","#5a52b6","#7350b8","#9250b8","#a94fae","#b8508a"]}}
}
},
{
"data": {"values": [{}]},
"mark": {"type": "rect", "color": "white"},
"encoding": {
"x": {"datum": -0.745, "type": "quantitative", "scale": {"domain": [0, 4.5], "range": [502.3, 926.7], "nice": false, "zero": false}, "axis": null},
"x2": {"datum": 4.589},
"y": {"datum": 7.8519, "type": "quantitative", "scale": {"domain": [7.87, 7.9555], "range": [446.3, 128], "nice": false, "zero": false}, "axis": null},
"y2": {"datum": 7.9591}
}
},
{
"data": {"values": [{}]},
"mark": {"type": "rect", "filled": false, "stroke": "black", "strokeWidth": 2},
"encoding": {
"x": {"datum": 0, "type": "quantitative", "scale": {"domain": [0, 4.5], "range": [502.3, 926.7], "nice": false, "zero": false}, "axis": null},
"x2": {"datum": 4.5},
"y": {"datum": 7.87, "type": "quantitative", "scale": {"domain": [7.87, 7.9555], "range": [446.3, 128], "nice": false, "zero": false}, "axis": null},
"y2": {"datum": 7.9555}
}
},
{
"data": {"values": [
{"q":0,"cs":7.879},{"q":0.1,"cs":7.884},{"q":0.2,"cs":7.885},{"q":0.3,"cs":7.889},{"q":0.4,"cs":7.893},{"q":0.5,"cs":7.896},
{"q":0.6,"cs":7.901},{"q":0.7,"cs":7.905},{"q":0.8,"cs":7.909},{"q":0.9,"cs":7.917},{"q":1.0,"cs":7.916},{"q":1.2,"cs":7.920},
{"q":1.4,"cs":7.924},{"q":1.6,"cs":7.928},{"q":1.8,"cs":7.931},{"q":2.0,"cs":7.933},{"q":3.0,"cs":7.941},{"q":4.0,"cs":7.946}
]},
"mark": {"type": "point", "shape": "diamond", "filled": true, "color": "#0a0aff", "size": 95, "opacity": 1},
"encoding": {
"x": {"field": "q", "type": "quantitative", "scale": {"domain": [0, 4.5], "range": [502.3, 926.7], "nice": false, "zero": false},
"axis": {"orient": "bottom", "offset": -304.7, "values": [0, 0.5, 1, 1.5, 2, 2.5, 3, 3.5, 4],
"labelExpr": "datum.value % 1 === 0 ? format(datum.value, 'd') : ''",
"title": "Equiv. of KNO₃", "titleFontSize": 19.5, "titleFontWeight": "bold", "titleColor": "#111", "titlePadding": 14, "titleFont": "Liberation Sans",
"labelFontSize": 14, "labelFontWeight": "bold", "labelColor": "#111", "labelFont": "Liberation Sans", "labelPadding": 4,
"tickSize": 5, "tickWidth": 1.5, "tickColor": "black", "domainColor": "black", "domainWidth": 2, "grid": false, "zindex": 1, "labelFlush": false, "labelOverlap": false}},
"y": {"field": "cs", "type": "quantitative", "scale": {"domain": [7.87, 7.9555], "range": [446.3, 128], "nice": false, "zero": false},
"axis": {"orient": "left", "offset": -502.3, "values": [7.87, 7.88, 7.89, 7.9, 7.91, 7.92, 7.93, 7.94, 7.95],
"labelExpr": "round(datum.value*100) % 2 === 0 ? format(datum.value, '.2f') : ''",
"title": "Chemical shift [ppm]", "titleFontSize": 18, "titleFontWeight": "bold", "titleColor": "#111", "titlePadding": 8, "titleFont": "Liberation Sans",
"labelFontSize": 16.5, "labelFontWeight": "bold", "labelColor": "#111", "labelFont": "Liberation Sans", "labelPadding": 2,
"tickSize": 5, "tickWidth": 1.5, "tickColor": "black", "domainColor": "black", "domainWidth": 2, "grid": false, "zindex": 1, "labelFlush": false, "labelOverlap": false}}
}
}
],
"resolve": {"scale": {"x": "independent", "y": "independent"}, "axis": {"x": "independent", "y": "independent"}}
}
